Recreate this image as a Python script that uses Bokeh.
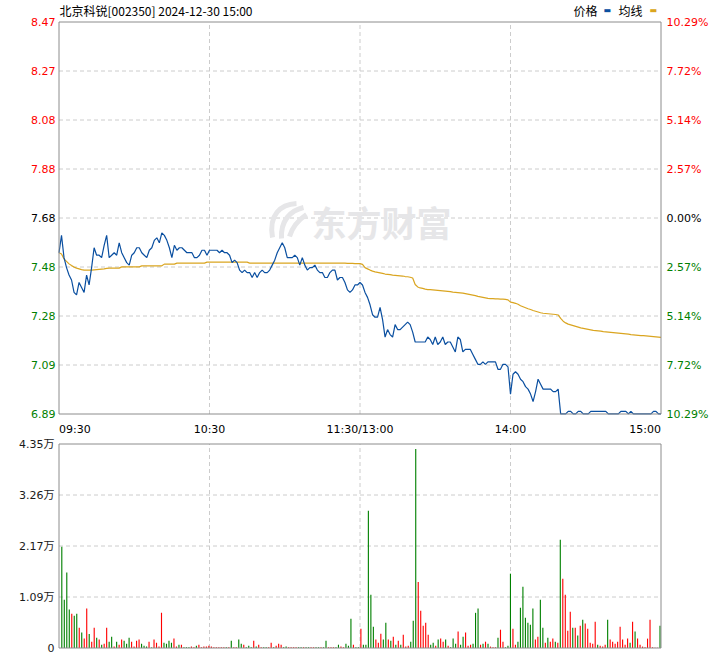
from bokeh.plotting import figure
from bokeh.models import Range1d, ColumnDataSource
from bokeh.core.properties import value
from bokeh.embed import file_html
from bokeh.resources import INLINE

# ---------------- data ----------------
stock_title = "北京科锐[002350] 2024-12-30 15:00"
legend_names = ["价格", "均线"]
watermark_text = "东方财富"

price_hi = 8.4703
price_lo = 6.8897
price_tick_labels = ["8.47", "8.27", "8.08", "7.88", "7.68", "7.48", "7.28", "7.09", "6.89"]
pct_tick_labels = ["10.29%", "7.72%", "5.14%", "2.57%", "0.00%", "2.57%", "5.14%", "7.72%", "10.29%"]
tick_trend = ["up", "up", "up", "up", "flat", "down", "down", "down", "down"]

time_tick_minutes = [0, 60, 120, 180, 240]
time_tick_labels = ["09:30", "10:30", "11:30/13:00", "14:00", "15:00"]

volume_max = 43500
volume_tick_values = [0, 10875, 21750, 32625, 43500]
volume_tick_labels = ["0", "1.09万", "2.17万", "3.26万", "4.35万"]

price = [
    7.54, 7.61, 7.52, 7.48, 7.45, 7.43, 7.38, 7.37, 7.42, 7.40,
    7.38, 7.45, 7.41, 7.48, 7.56, 7.53, 7.53, 7.52, 7.57, 7.61,
    7.52, 7.53, 7.54, 7.53, 7.58, 7.54, 7.52, 7.50, 7.49, 7.53,
    7.54, 7.56, 7.56, 7.54, 7.53, 7.52, 7.55, 7.56, 7.59, 7.60,
    7.58, 7.62, 7.61, 7.59, 7.56, 7.52, 7.57, 7.55, 7.56, 7.56,
    7.55, 7.54, 7.54, 7.54, 7.52, 7.52, 7.53, 7.55, 7.55, 7.53,
    7.55, 7.55, 7.55, 7.55, 7.54, 7.55, 7.54, 7.54, 7.53, 7.50,
    7.51, 7.50, 7.47, 7.46, 7.47, 7.46, 7.46, 7.44, 7.46, 7.44,
    7.46, 7.47, 7.46, 7.46, 7.47, 7.49, 7.51, 7.54, 7.56, 7.58,
    7.56, 7.52, 7.52, 7.52, 7.53, 7.52, 7.49, 7.52, 7.49, 7.47,
    7.48, 7.48, 7.49, 7.47, 7.46, 7.46, 7.44, 7.44, 7.46, 7.47,
    7.47, 7.43, 7.44, 7.44, 7.42, 7.39, 7.38, 7.39, 7.41, 7.41,
    7.42, 7.41, 7.38, 7.36, 7.33, 7.29, 7.28, 7.28, 7.32, 7.27,
    7.20, 7.23, 7.21, 7.20, 7.25, 7.23, 7.23, 7.24, 7.25, 7.26,
    7.25, 7.22, 7.18, 7.18, 7.18, 7.18, 7.18, 7.20, 7.19, 7.17,
    7.20, 7.17, 7.18, 7.20, 7.17, 7.18, 7.18, 7.16, 7.14, 7.20,
    7.19, 7.14, 7.15, 7.15, 7.15, 7.13, 7.11, 7.09, 7.09, 7.10,
    7.09, 7.10, 7.10, 7.10, 7.10, 7.07, 7.07, 7.09, 7.09, 7.08,
    6.97, 7.05, 7.06, 7.05, 7.03, 7.02, 7.00, 6.99, 6.97, 6.94,
    6.98, 7.03, 7.01, 6.99, 6.99, 6.99, 6.99, 6.98, 6.98, 6.99,
    6.89, 6.89, 6.89, 6.90, 6.90, 6.89, 6.89, 6.90, 6.90, 6.89,
    6.89, 6.89, 6.90, 6.90, 6.90, 6.90, 6.90, 6.90, 6.90, 6.89,
    6.89, 6.89, 6.89, 6.89, 6.90, 6.90, 6.90, 6.89, 6.90, 6.89,
    6.89, 6.89, 6.89, 6.89, 6.89, 6.89, 6.89, 6.90, 6.90, 6.89, 6.89,
]

avg_price = [
    7.540, 7.535, 7.515, 7.505, 7.495, 7.488, 7.482, 7.478, 7.475, 7.472,
    7.470, 7.470, 7.470, 7.470, 7.471, 7.472, 7.473, 7.474, 7.475, 7.477,
    7.478, 7.478, 7.478, 7.478, 7.478, 7.483, 7.483, 7.483, 7.483, 7.483,
    7.483, 7.483, 7.483, 7.487, 7.487, 7.487, 7.487, 7.487, 7.487, 7.487,
    7.487, 7.487, 7.494, 7.494, 7.494, 7.494, 7.494, 7.498, 7.498, 7.498,
    7.498, 7.498, 7.498, 7.498, 7.498, 7.498, 7.498, 7.498, 7.498, 7.502,
    7.502, 7.502, 7.502, 7.502, 7.502, 7.502, 7.502, 7.502, 7.502, 7.502,
    7.502, 7.502, 7.502, 7.502, 7.502, 7.502, 7.498, 7.498, 7.498, 7.498,
    7.498, 7.498, 7.498, 7.498, 7.498, 7.498, 7.498, 7.498, 7.498, 7.498,
    7.498, 7.498, 7.498, 7.498, 7.498, 7.498, 7.498, 7.498, 7.498, 7.498,
    7.498, 7.498, 7.498, 7.498, 7.498, 7.498, 7.498, 7.498, 7.498, 7.498,
    7.498, 7.498, 7.498, 7.498, 7.498, 7.497, 7.497, 7.497, 7.496, 7.496,
    7.496, 7.493, 7.480, 7.475, 7.470, 7.466, 7.463, 7.461, 7.459, 7.457,
    7.454, 7.453, 7.452, 7.450, 7.449, 7.448, 7.447, 7.446, 7.444, 7.443,
    7.441, 7.438, 7.412, 7.402, 7.398, 7.396, 7.393, 7.391, 7.391, 7.390,
    7.389, 7.388, 7.387, 7.386, 7.385, 7.384, 7.383, 7.381, 7.380, 7.379,
    7.378, 7.377, 7.375, 7.373, 7.371, 7.369, 7.367, 7.364, 7.362, 7.360,
    7.358, 7.356, 7.355, 7.355, 7.354, 7.354, 7.353, 7.353, 7.352, 7.350,
    7.341, 7.339, 7.336, 7.332, 7.326, 7.322, 7.318, 7.314, 7.311, 7.307,
    7.304, 7.301, 7.298, 7.296, 7.295, 7.294, 7.293, 7.292, 7.291, 7.289,
    7.275, 7.264, 7.257, 7.252, 7.249, 7.246, 7.243, 7.240, 7.237, 7.235,
    7.233, 7.231, 7.229, 7.227, 7.226, 7.225, 7.224, 7.222, 7.221, 7.220,
    7.219, 7.218, 7.217, 7.216, 7.215, 7.214, 7.213, 7.212, 7.210, 7.209,
    7.208, 7.207, 7.206, 7.206, 7.205, 7.204, 7.203, 7.202, 7.201, 7.200, 7.199,
]

volume = [
    21600, 10300, 16100, 8200, 7300, 6900, 7300, 4300, 3300, 2000,
    8400, 3000, 1350, 4300, 2200, 1800, 700, 900, 4300, 1350,
    2400, 300, 1350, 700, 1800, 1550, 900, 2200, 1350, 300,
    1550, 1800, 900, 500, 300, 1350, 100, 1800, 1100, 300,
    7500, 1100, 900, 1550, 1100, 2000, 300, 700, 700, 150,
    150, 150, 300, 150, 500, 700, 150, 300, 300, 500,
    300, 150, 150, 150, 150, 150, 150, 150, 1550, 150,
    150, 1800, 900, 700, 150, 500, 150, 1550, 300, 700,
    150, 150, 150, 150, 1100, 150, 500, 900, 700, 150,
    300, 150, 150, 150, 150, 150, 150, 150, 150, 150,
    150, 150, 150, 150, 150, 150, 1550, 150, 150, 150,
    150, 700, 300, 150, 900, 500, 6250, 700, 150, 150,
    4100, 700, 700, 29250, 11350, 4550, 1800, 1100, 3050, 1800,
    5400, 1800, 1550, 2400, 700, 1550, 700, 2850, 300, 500,
    1350, 5800, 42450, 14100, 7950, 4750, 5400, 2850, 700, 1100,
    500, 1800, 2000, 1350, 1800, 500, 150, 2000, 900, 3500,
    700, 2400, 3300, 500, 700, 900, 7500, 8400, 700, 900,
    1350, 900, 300, 150, 150, 2200, 3900, 1350, 150, 500,
    15850, 4100, 700, 1350, 8600, 13050, 6450, 5400, 4950, 8400,
    1800, 2400, 10300, 4300, 1100, 2200, 1350, 2000, 1350, 1100,
    23100, 14750, 11350, 3700, 7750, 4300, 4300, 2650, 4750, 6050,
    5200, 4100, 1100, 900, 5600, 700, 500, 300, 700, 6050,
    1800, 1350, 900, 1350, 4550, 1800, 700, 2000, 1100, 5600,
    3500, 2000, 700, 300, 150, 2000, 6050, 150, 50, 50, 4750,
]

# r = up minute (red), g = down minute (green)
volume_direction = list(
    "ggggrggrgr" "rgrrgrgrrg" "grgrrgggrr" "rrgggrgrrr" "rggggrrgrg"
    "ggrrgrrrrr" "rrrrrrgrgr" "rggrgggrgr" "rggrrgrrrg" "grrrrggrgg"
    "rrggrggrrr" "ggrrgggrgg" "rgggggrrrg" "grgrgrgrrr" "gggrrrrrgg"
    "rgrrgrgggr" "ggrrrgggrg" "rgrrrgrrgg" "grrggggggg" "rrggrgrrgr"
    "grrrrgrgrg" "rrrrrgrrrg" "rrrrrrrrgr" "grrrrrrrrrg"
)

assert len(price) == 241 and len(avg_price) == 241
assert len(volume) == 241 and len(volume_direction) == 241

# ---------------- styling / layout ----------------
RED = "#ff0000"
GREEN = "#008000"
BLACK = "#000000"
PRICE_COLOR = "#0a4fa0"
AVG_COLOR = "#daa520"
GRID_COLOR = "#cccccc"
FRAME_COLOR = "#8c8c8c"
WATERMARK_COLOR = "#e6e6e8"
NUM_FONT = "DejaVu Sans"
CJK_FONT = "Noto Sans CJK SC"
trend_color = {"up": RED, "flat": BLACK, "down": GREEN}
bar_color = {"r": RED, "g": GREEN}

W, H = 712, 655
# pixel geometry of the two panels (canvas coordinates)
X0_PX, X1_PX = 58.5, 660.5          # panel left / right edge
P_TOP_PX, P_BOT_PX = 21.5, 413.5     # price panel top / bottom
V_TOP_PX, V_BOT_PX = 443.5, 647.5    # volume panel top / bottom
B0_PX, B1_PX = 61.3, 659.5           # first / last volume bar centre

sx = (X1_PX - X0_PX) / 240.0
uy = (price_hi - price_lo) / (P_BOT_PX - P_TOP_PX)
vu = volume_max / (V_BOT_PX - V_TOP_PX)
sb = (B1_PX - B0_PX) / 240.0


def px2x(px):
    return (px - X0_PX) / sx


def py2p(py):
    return price_hi - (py - P_TOP_PX) * uy


def py2v(py):
    return volume_max - (py - V_TOP_PX) * vu


p = figure(width=W, height=H,
           x_range=Range1d(px2x(0), px2x(W)),
           y_range=Range1d(py2p(H), py2p(0)),
           x_axis_type=None, y_axis_type=None,
           output_backend="svg", toolbar_location=None,
           min_border=0)
p.title.visible = False
p.outline_line_color = None
p.background_fill_color = "white"
p.border_fill_color = "white"
p.extra_y_ranges = {"vol": Range1d(py2v(H), py2v(0))}
p.extra_x_ranges = {"bars": Range1d((0 - B0_PX) / sb, (W - B0_PX) / sb)}

minutes = list(range(241))

# ----- price panel grid -----
step = (price_hi - price_lo) / 8
price_tick_values = [price_hi - k * step for k in range(9)]
inner_p = price_tick_values[1:-1]
p.segment(x0=[0] * len(inner_p), x1=[240] * len(inner_p), y0=inner_p, y1=inner_p,
          line_color=GRID_COLOR, line_dash="4 3", line_width=1)
inner_t = time_tick_minutes[1:-1]
p.segment(x0=inner_t, x1=inner_t, y0=[price_lo] * len(inner_t), y1=[price_hi] * len(inner_t),
          line_color=GRID_COLOR, line_dash="4 3", line_width=1)

# watermark: logo strokes + brand text
p.bezier(x0=[px2x(272), px2x(281), px2x(289)],
         y0=[py2p(237), py2p(238), py2p(236)],
         x1=[px2x(296), px2x(303), px2x(306)],
         y1=[py2p(203), py2p(207), py2p(214)],
         cx0=[px2x(268), px2x(280), px2x(292)],
         cy0=[py2p(214), py2p(220), py2p(226)],
         cx1=[px2x(280), px2x(290), px2x(300)],
         cy1=[py2p(204), py2p(210), py2p(218)],
         line_color=WATERMARK_COLOR, line_width=5)
p.text(x=[px2x(311)], y=[py2p(221)], text=[watermark_text],
       text_font=value(CJK_FONT), text_font_style="bold", text_font_size=value("35px"),
       text_color=WATERMARK_COLOR, text_align="left", text_baseline="middle")

# lines
src = ColumnDataSource(dict(t=minutes, price=price, avg=avg_price))
p.line("t", "avg", source=src, line_color=AVG_COLOR, line_width=1.2)
p.line("t", "price", source=src, line_color=PRICE_COLOR, line_width=1.2)

# price panel frame
p.quad(left=[0], right=[240], bottom=[price_lo], top=[price_hi],
       fill_color=None, line_color=FRAME_COLOR, line_width=1)

# price / percent tick labels
tsrc = ColumnDataSource(dict(
    y=price_tick_values, lab=price_tick_labels, pct=pct_tick_labels,
    col=[trend_color[t] for t in tick_trend],
    xl=[px2x(55)] * 9, xr=[px2x(666)] * 9))
p.text(x="xl", y="y", text="lab", source=tsrc, text_color="col",
       text_font=value(NUM_FONT), text_font_size=value("11px"),
       text_align="right", text_baseline="middle")
p.text(x="xr", y="y", text="pct", source=tsrc, text_color="col",
       text_font=value(NUM_FONT), text_font_size=value("11px"),
       text_align="left", text_baseline="middle")

# time labels
y_time = py2p(429)
p.text(x=time_tick_minutes[:1], y=[y_time], text=time_tick_labels[:1],
       text_font=value(NUM_FONT), text_font_size=value("11px"), text_color=BLACK,
       text_align="left", text_baseline="middle")
p.text(x=time_tick_minutes[1:4], y=[y_time] * 3, text=time_tick_labels[1:4],
       text_font=value(NUM_FONT), text_font_size=value("11px"), text_color=BLACK,
       text_align="center", text_baseline="middle")
p.text(x=time_tick_minutes[4:], y=[y_time], text=time_tick_labels[4:],
       text_font=value(NUM_FONT), text_font_size=value("11px"), text_color=BLACK,
       text_align="right", text_baseline="middle")

# title and legend
y_head = py2p(10)
p.text(x=[px2x(59)], y=[y_head], text=[stock_title],
       text_font=value(CJK_FONT), text_font_size=value("12px"), text_color=BLACK,
       text_align="left", text_baseline="middle")
p.text(x=[px2x(573), px2x(618)], y=[y_head, y_head], text=legend_names,
       text_font=value(CJK_FONT), text_font_size=value("12px"), text_color=BLACK,
       text_align="left", text_baseline="middle")
p.text(x=[px2x(603), px2x(649)], y=[y_head, y_head], text=["▬", "▬"],
       text_font=value(NUM_FONT), text_font_size=value("8px"),
       text_color=[PRICE_COLOR, AVG_COLOR],
       text_align="left", text_baseline="middle")

# ----- volume panel -----
inner_v = volume_tick_values[1:-1]
p.segment(x0=[0] * len(inner_v), x1=[240] * len(inner_v), y0=inner_v, y1=inner_v,
          y_range_name="vol", line_color=GRID_COLOR, line_dash="4 3", line_width=1)
p.segment(x0=inner_t, x1=inner_t, y0=[0] * len(inner_t), y1=[volume_max] * len(inner_t),
          y_range_name="vol", line_color=GRID_COLOR, line_dash="4 3", line_width=1)

vsrc = ColumnDataSource(dict(t=minutes, vol=volume,
                             color=[bar_color[d] for d in volume_direction]))
p.vbar(x="t", top="vol", bottom=0, width=0.45, source=vsrc,
       x_range_name="bars", y_range_name="vol",
       fill_color="color", line_color=None)

p.quad(left=[0], right=[240], bottom=[0], top=[volume_max], y_range_name="vol",
       fill_color=None, line_color=FRAME_COLOR, line_width=1)

vlsrc = ColumnDataSource(dict(y=volume_tick_values, lab=volume_tick_labels,
                              x=[px2x(54)] * len(volume_tick_values)))
p.text(x="x", y="y", text="lab", source=vlsrc, y_range_name="vol",
       text_font=value(NUM_FONT + ", " + CJK_FONT), text_font_size=value("11px"),
       text_color="#1a1a1a", text_align="right", text_baseline="middle")

open("out.html", "w").write(file_html(p, INLINE))
